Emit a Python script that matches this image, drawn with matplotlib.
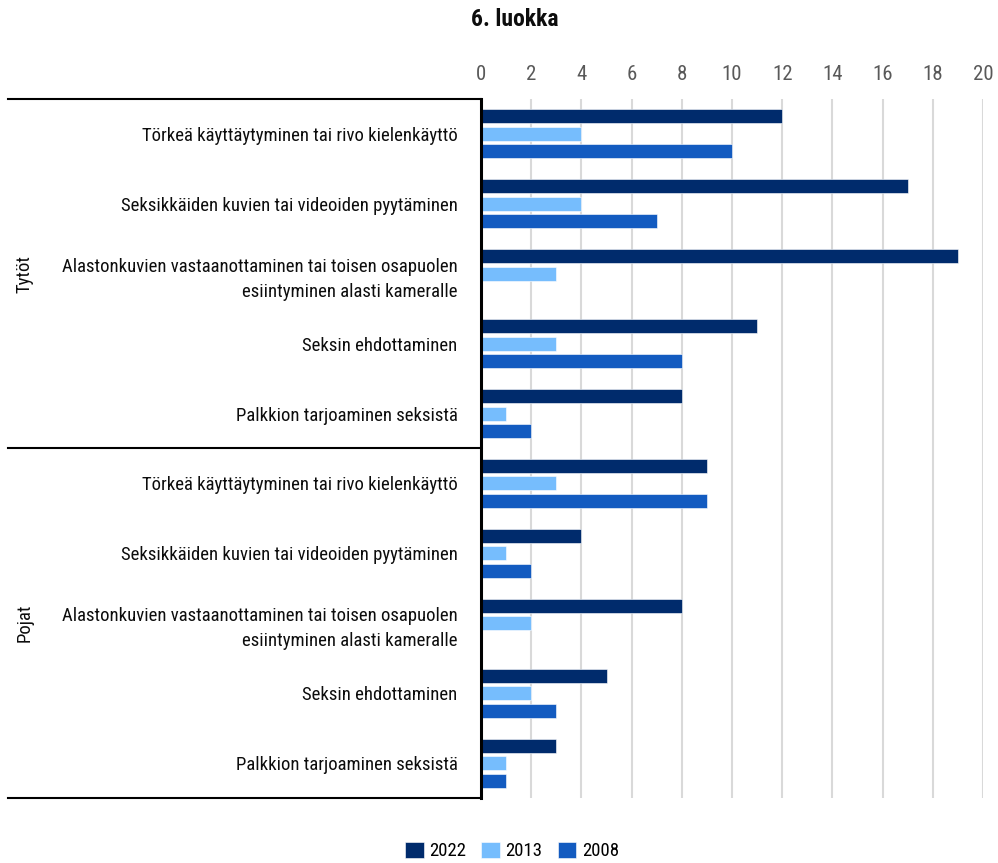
import numpy as np
import matplotlib
matplotlib.use("Agg")
import matplotlib.pyplot as plt
import matplotlib.transforms as mtransforms
from matplotlib import font_manager

# pick a condensed face if one is around, otherwise a narrow-ish sans
installed = {f.name for f in font_manager.fontManager.ttflist}
condensed = [n for n in ["Roboto Condensed", "Open Sans Condensed", "Liberation Sans Narrow",
                         "Noto Sans Condensed", "DejaVu Sans Condensed"] if n in installed]
if condensed:
    family = condensed[0]
    fs = 13.5
else:
    family = "Liberation Sans"
    fs = 12
plt.rcParams['font.family'] = [family, 'DejaVu Sans']

# data
groups = ["Tytöt", "Pojat"]
items = [
    "Törkeä käyttäytyminen tai rivo kielenkäyttö",
    "Seksikkäiden kuvien tai videoiden pyytäminen",
    "Alastonkuvien vastaanottaminen tai toisen osapuolen\nesiintyminen alasti kameralle",
    "Seksin ehdottaminen",
    "Palkkion tarjoaminen seksistä",
]
labels = items + items
series_names = ["2022", "2013", "2008"]
vals_2022 = [12, 17, 19, 11, 8, 9, 4, 8, 5, 3]
vals_2013 = [4, 4, 3, 3, 1, 3, 1, 2, 2, 1]
vals_2008 = [10, 7, np.nan, 8, 2, 9, 2, np.nan, 3, 1]
colors = ["#002B6C", "#76BDFD", "#135BC0"]

fig = plt.figure(figsize=(9.98, 8.63), dpi=100)
ax = fig.add_axes([481 / 998, 1 - 798 / 863, 502 / 998, 699 / 863])

y = np.arange(len(labels))
bh = 0.2
step = 0.25
for i, (vals, name, c) in enumerate(zip([vals_2022, vals_2013, vals_2008], series_names, colors)):
    ax.barh(y + (i - 1) * step, vals, height=bh, color=c, label=name,
            edgecolor="white", linewidth=0.4, zorder=3)

ax.set_xlim(0, 20)
ax.set_ylim(len(labels) - 0.5, -0.5)
ax.set_xticks(range(0, 21, 2))
ax.xaxis.tick_top()
ax.tick_params(axis="x", length=0, pad=11, labelsize=fs + 1.5, labelcolor="#595959")
ax.set_yticks(y)
ax.set_yticklabels(labels, fontsize=fs, color="#0d0d0d", linespacing=1.5)
ax.tick_params(axis="y", length=0, pad=17)
ax.grid(axis="x", color="#d9d9d9", linewidth=1.5, zorder=0)

for s in ["top", "right", "bottom"]:
    ax.spines[s].set_visible(False)
ax.spines["left"].set_linewidth(2.2)
ax.spines["left"].set_color("black")
ax.spines["left"].set_zorder(6)

# group separators and labels
trans = mtransforms.blended_transform_factory(fig.transFigure, ax.transData)
x0 = 8 / 998
x1 = 481 / 998
for yb in [-0.5, 4.5, 9.5]:
    ax.plot([x0, x1], [yb, yb], transform=trans, color="black", linewidth=1.5,
            clip_on=False, zorder=5)
for k, g in enumerate(groups):
    ax.text(25 / 998, 5 * k + 2, g, transform=trans, rotation=90,
            ha="center", va="center", fontsize=fs, color="#0d0d0d")

fig.text(515 / 998, 1 - 20 / 863, "6. luokka", ha="center", va="center",
         fontsize=fs + 3.5, fontweight="bold", color="#0d0d0d")

fig.legend(loc="center", bbox_to_anchor=(512 / 998, 1 - 851 / 863), ncol=3,
           frameon=False, fontsize=fs, handlelength=1.0, handleheight=1.0,
           columnspacing=0.8, handletextpad=0.3)

fig.savefig("out.png", dpi=100)
